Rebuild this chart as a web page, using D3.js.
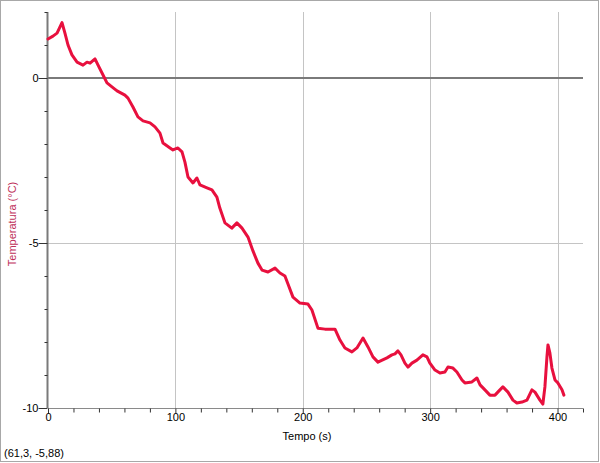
<!DOCTYPE html>
<html><head><meta charset="utf-8">
<script src="https://cdn.jsdelivr.net/npm/d3@7"></script>
<style>body{margin:0;background:#fff}svg{display:block}text{font-family:"Liberation Sans",Arial,sans-serif}</style>
</head><body>
<svg id="c" width="600" height="463"></svg>
<script>
// Time (s)
const tempo = [0,3.9,7.1,11.0,13.3,15.7,18.8,22.8,27.5,30.6,33.0,36.9,39.3,43.2,46.3,50.2,54.2,60.4,62.8,66.7,70.6,74.6,80.1,84.0,87.9,90.3,95.8,98.1,102.0,105.2,107.5,109.9,113.8,116.9,119.3,124.8,128.7,132.6,134.9,138.9,144.3,148.3,152.3,157.0,160.9,164.8,168.0,172.7,178.2,182.1,186.0,188.4,192.3,197.8,204.1,207.2,211.9,217.4,225.3,229.2,233.1,238.6,242.5,247.3,251.2,255.1,259.0,266.1,270.0,272.4,274.7,277.1,280.2,282.6,285.7,289.6,294.3,297.5,299.8,303.8,307.7,311.6,314.0,317.9,321.0,325.0,327.3,332.8,336.7,339.2,343.0,346.9,350.9,354.8,357.1,361.1,365.0,368.1,372.1,376.0,379.9,382.3,386.2,388.5,390.1,391.7,392.5,394.0,395.6,398.0,400.3,403.5,405.0];
// Temperature (°C)
const temperatura = [1.18,1.27,1.36,1.68,1.36,1.00,0.70,0.48,0.39,0.48,0.45,0.58,0.39,0.09,-0.15,-0.27,-0.39,-0.52,-0.61,-0.88,-1.18,-1.30,-1.36,-1.48,-1.67,-1.97,-2.12,-2.18,-2.12,-2.24,-2.55,-3.00,-3.18,-3.03,-3.24,-3.33,-3.39,-3.61,-3.94,-4.39,-4.55,-4.39,-4.55,-4.82,-5.24,-5.61,-5.82,-5.88,-5.76,-5.91,-6.00,-6.24,-6.64,-6.82,-6.85,-7.03,-7.58,-7.61,-7.61,-7.94,-8.18,-8.30,-8.18,-7.88,-8.15,-8.45,-8.61,-8.48,-8.39,-8.36,-8.27,-8.39,-8.64,-8.76,-8.64,-8.55,-8.39,-8.45,-8.64,-8.85,-8.94,-8.91,-8.76,-8.79,-8.91,-9.15,-9.24,-9.21,-9.09,-9.30,-9.45,-9.61,-9.61,-9.45,-9.36,-9.52,-9.76,-9.85,-9.82,-9.76,-9.45,-9.52,-9.76,-9.88,-9.36,-8.45,-8.09,-8.33,-8.79,-9.15,-9.24,-9.45,-9.61];
const xMajorTicks = [0,100,200,300,400];
const yMajorTicks = [-10,-5,0];
const xTitle = "Tempo (s)";
const yTitle = "Temperatura (°C)";
const statusText = "(61,3, -5,88)";

const svg = d3.select("#c");
const x = d3.scaleLinear().domain([0,420]).range([48,583]);
const y = d3.scaleLinear().domain([-10,2]).range([408,12]);

// outer frame
svg.append("rect").attr("x",0.5).attr("y",0.5).attr("width",598).attr("height",461)
  .attr("fill","none").attr("stroke","#a8a8a8");

// grid
svg.selectAll(".vg").data(xMajorTicks.filter(d=>d>0)).enter().append("line")
  .attr("x1",d=>Math.round(x(d))+0.5).attr("x2",d=>Math.round(x(d))+0.5)
  .attr("y1",y(2)).attr("y2",y(-10)).attr("stroke","#c4c4c4").attr("stroke-width",1);
svg.append("line").attr("x1",x(0)).attr("x2",x(420)).attr("y1",Math.round(y(-5))+0.5).attr("y2",Math.round(y(-5))+0.5)
  .attr("stroke","#c4c4c4");
svg.append("line").attr("x1",x(0)).attr("x2",x(420)).attr("y1",y(0)).attr("y2",y(0))
  .attr("stroke","#7a7a7a").attr("stroke-width",2);

// x axis
const xAxis = d3.axisBottom(x).tickValues(d3.range(0,421,20)).tickSize(4)
  .tickFormat(d=>xMajorTicks.includes(d)?d:"");
const gx = svg.append("g").attr("transform","translate(0,408.5)").call(xAxis);
gx.select(".domain").attr("stroke","#8a8a8a").attr("d",`M${x(0)},0H${x(420)}`);
gx.selectAll(".tick line").attr("stroke","#333").attr("y2",d=>xMajorTicks.includes(d)?5:4);
gx.selectAll(".tick text").attr("font-size","11px").attr("fill","#000").attr("dy","0.6em").attr("y",6);

// y axis
const yAxis = d3.axisLeft(y).tickValues(d3.range(-10,3,1)).tickSize(3)
  .tickFormat(d=>yMajorTicks.includes(d)?d:"");
const gy = svg.append("g").attr("transform","translate(47.5,0)").call(yAxis);
gy.select(".domain").attr("stroke","#7a7a7a").attr("stroke-width",2).attr("d",`M0,${y(2)}V${y(-10)}`);
gy.selectAll(".tick line").attr("stroke","#333").attr("x2",d=>yMajorTicks.includes(d)?-9:-3);
gy.selectAll(".tick text").attr("font-size","11px").attr("fill","#000").attr("x",-9);

// titles
svg.append("text").attr("x",307).attr("y",440).attr("text-anchor","middle")
  .attr("font-size","11px").attr("fill","#000").text(xTitle);
svg.append("text").attr("transform","translate(16,224) rotate(-90)").attr("text-anchor","middle")
  .attr("font-size","11px").attr("fill","#c0305a").text(yTitle);
svg.append("text").attr("x",4).attr("y",457).attr("font-size","11px").attr("fill","#000").text(statusText);

// data line
const pts = tempo.map((t,i)=>[t,temperatura[i]]);
svg.append("path").datum(pts)
  .attr("d",d3.line().x(d=>x(d[0])).y(d=>y(d[1])))
  .attr("fill","none").attr("stroke","#e8103e").attr("stroke-width",3)
  .attr("stroke-linejoin","round").attr("stroke-linecap","round");
</script>
</body></html>
